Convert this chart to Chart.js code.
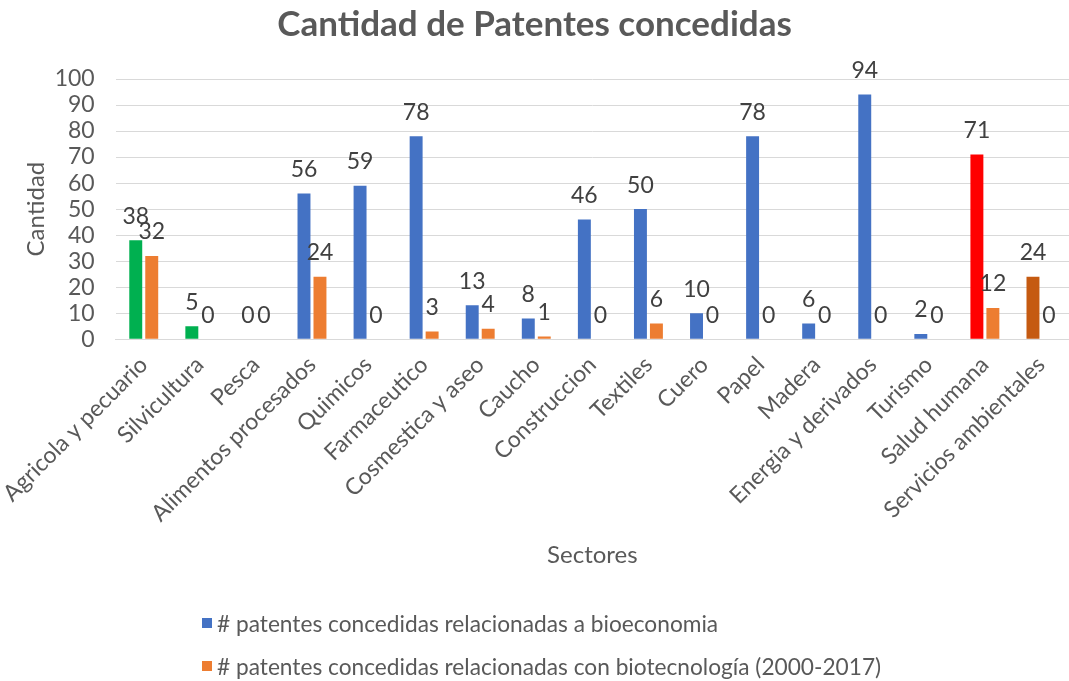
<!DOCTYPE html>
<html>
<head>
<meta charset="utf-8">
<script src="https://cdn.jsdelivr.net/npm/chart.js@4.4.1/dist/chart.umd.min.js"></script>
<style>
  html, body { margin: 0; padding: 0; background: #fff; }
  #wrap { position: relative; width: 1069px; height: 681px; }
  #legend { position: absolute; left: 202px; top: 606px; font-family: Lato, sans-serif; font-size: 22.7px; color: #595959; }
  #legend div { display: flex; align-items: center; height: 34px; margin-bottom: 9px; white-space: nowrap; }
  #legend span.box { display: inline-block; width: 10px; height: 10px; margin-right: 5px; }
</style>
</head>
<body>
<div id="wrap">
  <canvas id="chart" width="1069" height="681"></canvas>
  <div id="legend"></div>
</div>
<script>
const sectores = ['Agricola y pecuario', 'Silvicultura', 'Pesca', 'Alimentos procesados', 'Quimicos',
  'Farmaceutico', 'Cosmestica y aseo', 'Caucho', 'Construccion', 'Textiles', 'Cuero', 'Papel',
  'Madera', 'Energia y derivados', 'Turismo', 'Salud humana', 'Servicios ambientales'];
const bioeconomia = [38, 5, 0, 56, 59, 78, 13, 8, 46, 50, 10, 78, 6, 94, 2, 71, 24];
const biotecnologia = [32, 0, 0, 24, 0, 3, 4, 1, 0, 6, 0, 0, 0, 0, 0, 12, 0];
const yTicks = [0, 10, 20, 30, 40, 50, 60, 70, 80, 90, 100];

const BLUE = '#4472C4', ORANGE = '#ED7D31';
// the reference colours a few single bars of the first series by hand
const bioColors = sectores.map((s, i) => {
  if (i <= 1) return '#00B050';
  if (i === 15) return '#FF0000';
  if (i === 16) return '#C55A11';
  return BLUE;
});

const FONT = 'Lato, sans-serif';
const GRAY = '#595959';

const valueLabels = {
  id: 'valueLabels',
  afterDatasetsDraw(chart) {
    const ctx = chart.ctx;
    ctx.save();
    ctx.font = '23px ' + FONT;
    ctx.fillStyle = '#404040';
    ctx.textAlign = 'center';
    ctx.textBaseline = 'middle';
    chart.data.datasets.forEach((ds, di) => {
      chart.getDatasetMeta(di).data.forEach((bar, i) => {
        ctx.fillText(ds.data[i], bar.x, bar.y - 24);
      });
    });
    ctx.restore();
  }
};

const chart = new Chart(document.getElementById('chart'), {
  type: 'bar',
  data: {
    labels: sectores,
    datasets: [{
      label: '# patentes concedidas relacionadas a bioeconomia',
      data: bioeconomia,
      backgroundColor: bioColors,
      legendColor: BLUE,
      categoryPercentage: 0.57,
      barPercentage: 0.81
    }, {
      label: '# patentes concedidas relacionadas con biotecnología (2000-2017)',
      data: biotecnologia,
      backgroundColor: ORANGE,
      legendColor: ORANGE,
      categoryPercentage: 0.57,
      barPercentage: 0.81
    }]
  },
  options: {
    responsive: false,
    animation: false,
    layout: { padding: { left: 0, right: 0, top: 0, bottom: 107 } },
    plugins: {
      legend: { display: false },
      tooltip: { enabled: false },
      title: {
        display: true,
        text: 'Cantidad de Patentes concedidas',
        color: GRAY,
        font: { family: FONT, size: 35, weight: 'bold' },
        padding: { top: 4, bottom: 33 }
      }
    },
    scales: {
      x: {
        grid: { display: false },
        border: { color: '#D9D9D9', width: 1 },
        ticks: { color: GRAY, font: { family: FONT, size: 23 }, minRotation: 45, maxRotation: 45, padding: 4 },
        title: { display: true, text: 'Sectores', color: GRAY, font: { family: FONT, size: 24 }, padding: { top: 10 } }
      },
      y: {
        min: 0,
        max: 100,
        afterBuildTicks(axis) { axis.ticks = yTicks.map(v => ({ value: v })); },
        afterFit(axis) { axis.width = 113; },
        grid: { color: '#D9D9D9', lineWidth: 1, drawTicks: false },
        border: { display: false },
        ticks: { color: GRAY, font: { family: FONT, size: 23 }, padding: 21, autoSkip: false },
        title: { display: true, text: 'Cantidad', color: GRAY, font: { family: FONT, size: 24 }, padding: { top: 19, bottom: 4 } }
      }
    }
  },
  plugins: [valueLabels]
});

const legend = document.getElementById('legend');
chart.data.datasets.forEach(ds => {
  const row = document.createElement('div');
  const box = document.createElement('span');
  box.className = 'box';
  box.style.background = ds.legendColor;
  row.appendChild(box);
  row.appendChild(document.createTextNode(ds.label));
  legend.appendChild(row);
});
</script>
</body>
</html>
